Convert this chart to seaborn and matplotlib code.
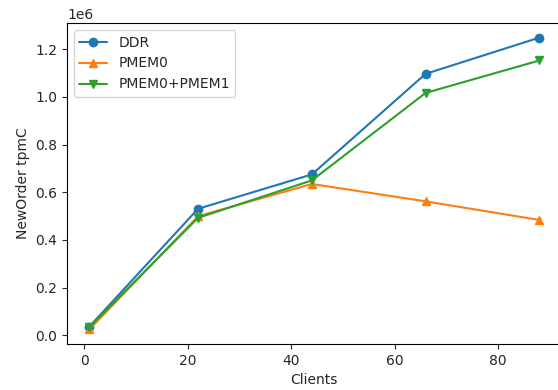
import pandas as pd
import matplotlib
matplotlib.use('Agg')
from matplotlib import pyplot as plt
import seaborn as sns

clients = [1, 22, 44, 66, 88]
ddr = [0.037e6, 0.531e6, 0.675e6, 1.097e6, 1.249e6]
pmem0 = [0.025e6, 0.500e6, 0.635e6, 0.562e6, 0.484e6]
pmem01 = [0.035e6, 0.493e6, 0.650e6, 1.017e6, 1.153e6]

series = ['DDR', 'PMEM0', 'PMEM0+PMEM1']
kolory = ['#1f77b4', '#ff7f0e', '#2ca02c']
dane = pd.DataFrame({
    'Clients': clients * 3,
    'tpmC': ddr + pmem0 + pmem01,
    'config': [s for s in series for _ in clients],
})

sns.set_style('ticks')
plt.rcParams['font.family'] = ['DejaVu Sans']

fig = plt.figure(figsize=(5.58, 3.9), dpi=100)
ax = fig.add_axes([0.12, 0.118, 0.887, 0.823])

sns.lineplot(data=dane, x='Clients', y='tpmC', hue='config', style='config',
             markers={'DDR': 'o', 'PMEM0': '^', 'PMEM0+PMEM1': 'v'},
             dashes=False, palette=kolory,
             markersize=6, linewidth=1.5, ax=ax)
# krawedz markera w kolorze linii (jak w domyslnym matplotlib)
for line, c in zip(ax.get_lines(), kolory):
    line.set_markeredgecolor(c)
    line.set_markeredgewidth(1.0)

ax.set_xlabel('Clients')
ax.set_ylabel('NewOrder tpmC')
ax.legend(title=None, loc='upper left')
for line, c in zip(ax.get_legend().get_lines(), kolory):
    line.set_markeredgecolor(c)
    line.set_markeredgewidth(1.0)
for s in ax.spines.values():
    s.set_visible(True)
    s.set_color('black')
    s.set_linewidth(0.8)

fig.savefig('out.png', dpi=100)
